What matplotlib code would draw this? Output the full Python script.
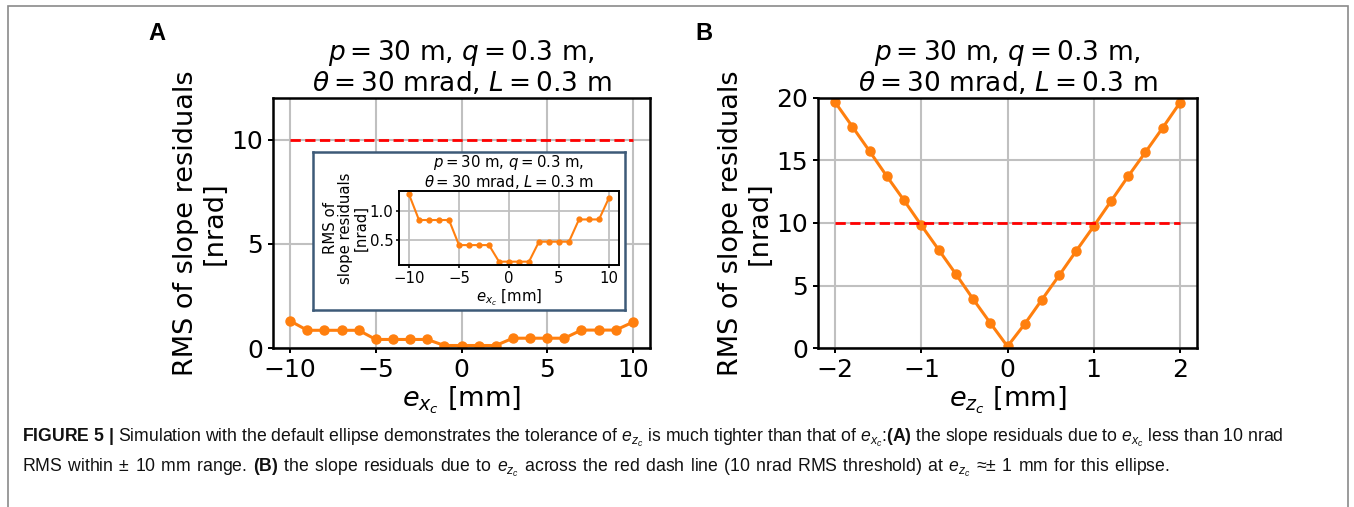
import matplotlib
matplotlib.use("Agg")
import matplotlib.pyplot as plt
from matplotlib.patches import Rectangle

# ---------------- data ----------------
ex_mm = [-10, -9, -8, -7, -6, -5, -4, -3, -2, -1, 0, 1, 2, 3, 4, 5, 6, 7, 8, 9, 10]
rms_ex = [1.30, 0.85, 0.85, 0.85, 0.85, 0.41, 0.41, 0.41, 0.41, 0.12, 0.12, 0.12, 0.12,
          0.47, 0.47, 0.47, 0.47, 0.86, 0.86, 0.86, 1.24]

ez_mm = [-2.0, -1.8, -1.6, -1.4, -1.2, -1.0, -0.8, -0.6, -0.4, -0.2, 0.0,
         0.2, 0.4, 0.6, 0.8, 1.0, 1.2, 1.4, 1.6, 1.8, 2.0]
rms_ez = [19.65, 17.7, 15.73, 13.73, 11.8, 9.81, 7.87, 5.92, 3.92, 2.0, 0.13,
          1.92, 3.87, 5.81, 7.79, 9.73, 11.73, 13.73, 15.65, 17.6, 19.6]

threshold = 10
title_txt = "$p = 30$ m, $q = 0.3$ m,\n$\\theta = 30$ mrad, $L = 0.3$ m"
ylabel_txt = "RMS of slope residuals\n[nrad]"
inset_ylabel_txt = "RMS of\nslope residuals\n[nrad]"

plt.rcParams['mathtext.rm'] = 'Liberation Sans'
plt.rcParams['mathtext.it'] = 'Liberation Sans:italic'
plt.rcParams['mathtext.bf'] = 'Liberation Sans:bold'

W, H = 1354, 507
fig = plt.figure(figsize=(W / 100, H / 100), dpi=100)

def box(x0, y0, x1, y1):
    return [x0 / W, 1 - y1 / H, (x1 - x0) / W, (y1 - y0) / H]

orange = '#ff7f0e'
FS_T, FS_L, FS_K = 19, 19.5, 18

def style(ax, fs, lw, glw):
    ax.grid(True, color='#c0c0c0', linewidth=glw)
    ax.set_axisbelow(True)
    for s in ax.spines.values():
        s.set_linewidth(lw)
    ax.tick_params(labelsize=fs, width=lw * 0.8)

# ---------------- panel A ----------------
axA = fig.add_axes(box(273, 98, 650, 348))
axA.plot(ex_mm, rms_ex, '-o', color=orange, lw=2.2, ms=6.5)
axA.hlines(threshold, ex_mm[0], ex_mm[-1], colors='red', linestyles='--', lw=2)
axA.set_ylim(0, 12)
axA.set_xticks([-10, -5, 0, 5, 10])
axA.set_yticks([0, 5, 10])
axA.set_title(title_txt, fontsize=FS_T, pad=5, linespacing=1.1)
axA.set_xlabel("$e_{x_c}$ [mm]", fontsize=FS_L, labelpad=2)
axA.set_ylabel(ylabel_txt, fontsize=FS_L, labelpad=3, linespacing=1.1)
style(axA, FS_K, 1.8, 1.5)

# inset frame
frame = fig.add_axes(box(313, 152, 625, 310))
frame.set_xticks([])
frame.set_yticks([])
frame.set_facecolor('white')
for s in frame.spines.values():
    s.set_edgecolor('#3d5a78')
    s.set_linewidth(1.8)

# inset axes
FSi = 10.7
axI = fig.add_axes(box(399, 191, 619, 265))
axI.plot(ex_mm, rms_ex, '-o', color=orange, lw=1.5, ms=3.5)
axI.set_xticks([-10, -5, 0, 5, 10])
axI.set_yticks([0.5, 1.0])
axI.set_title(title_txt, fontsize=FSi, pad=2, linespacing=1.05)
axI.set_xlabel("$e_{x_c}$ [mm]", fontsize=FSi, labelpad=1)
axI.set_ylabel(inset_ylabel_txt, fontsize=FSi, labelpad=1, linespacing=1.0)
style(axI, FSi, 1.4, 1.3)
axI.tick_params(length=2.5, pad=1.5)

# ---------------- panel B ----------------
axB = fig.add_axes(box(818, 98, 1197, 348))
axB.plot(ez_mm, rms_ez, '-o', color=orange, lw=2.2, ms=6.5)
axB.hlines(threshold, ez_mm[0], ez_mm[-1], colors='red', linestyles='--', lw=2)
axB.set_ylim(0, 20)
axB.set_xticks([-2, -1, 0, 1, 2])
axB.set_yticks([0, 5, 10, 15, 20])
axB.set_title(title_txt, fontsize=FS_T, pad=5, linespacing=1.1)
axB.set_xlabel("$e_{z_c}$ [mm]", fontsize=FS_L, labelpad=2)
axB.set_ylabel(ylabel_txt, fontsize=FS_L, labelpad=3, linespacing=1.1)
style(axB, FS_K, 1.8, 1.5)

# panel letters
fig.text(157 / W, 1 - 34 / H, "A", fontsize=17, fontweight='bold',
         family='Liberation Sans', ha='center', va='center')
fig.text(704 / W, 1 - 34 / H, "B", fontsize=17, fontweight='bold',
         family='Liberation Sans', ha='center', va='center')

# caption
cap1 = (r"$\bf{FIGURE\ 5\ |}$ Simulation with the default ellipse demonstrates the tolerance of "
        r"$\it{e}_{z_c}$ is much tighter than that of $\it{e}_{x_c}$:$\bf{(A)}$ the slope residuals "
        r"due to $\it{e}_{x_c}$ less than 10 nrad")
cap2 = (r"RMS within ± 10 mm range. $\bf{(B)}$ the slope residuals due to $\it{e}_{z_c}$ across the "
        r"red dash line (10 nrad RMS threshold) at $\it{e}_{z_c}$ ≈± 1 mm for this ellipse.")
# the last caption line has slightly wider word spacing in the reference
cap2_parts = cap2.split(" ")
cap2 = ""
inmath = False
for i, w in enumerate(cap2_parts):
    if i > 0:
        cap2 += " " if inmath else " \u200a"
    cap2 += w
    inmath = (cap2.count("$") % 2 == 1)
for txt, yy in [(cap1, 438), (cap2, 468)]:
    fig.text(22 / W, 1 - yy / H, txt, fontsize=12.7, family='Liberation Sans',
             math_fontfamily='custom', ha='left', va='center', color='#111111')

# figure border
fig.patches.append(Rectangle((8 / W, -0.05), 1340 / W, 1.05 - 6 / H,
                             transform=fig.transFigure, fill=False,
                             edgecolor='#8a8a8a', lw=1.2))

fig.savefig("out.png", dpi=100)
